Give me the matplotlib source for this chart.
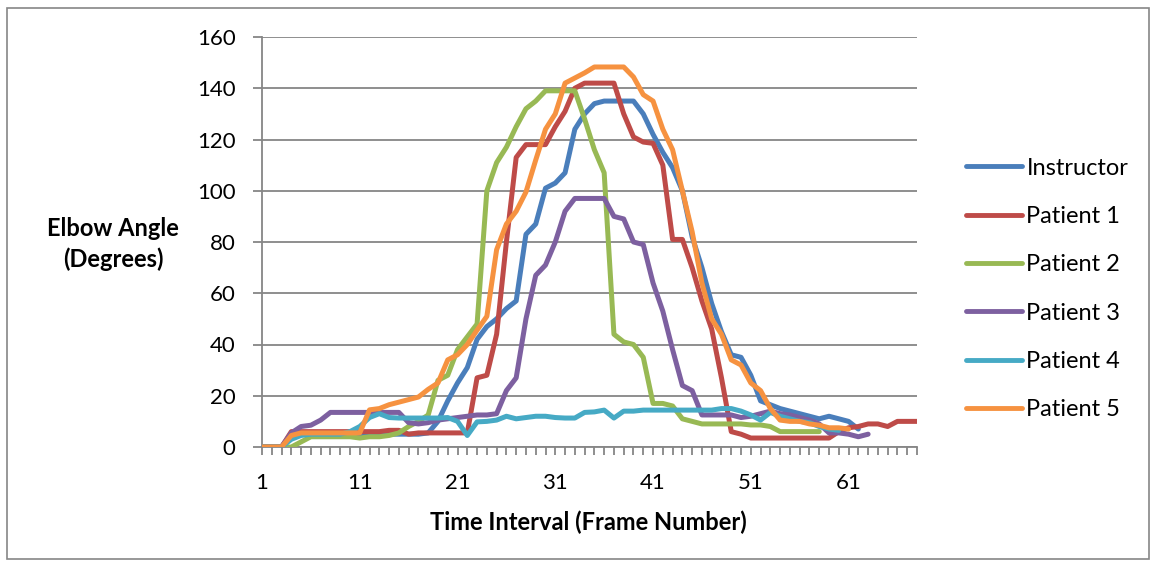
import matplotlib
matplotlib.use("Agg")
import matplotlib.pyplot as plt
from matplotlib.patches import Rectangle
import numpy as np

frames = list(range(1, 69))

instructor = [0, 0, 0, 5, 5, 5, 5, 5, 5, 5, 5, 5, 5, 5, 5, 5, 5, 5.5, 10, 18,
              25, 31, 42, 47, 50, 54, 57, 83, 87, 101, 103, 107, 124, 130, 134, 135, 135, 135, 135, 130,
              122, 115, 109, 100, 82, 70, 56, 45, 36, 35, 28, 18, 16.5, 15, 14, 13, 12, 11, 12, 11,
              10, 7]
patient1 = [0, 0, 0, 6, 6, 6, 6, 6, 6, 6, 6, 6, 6, 6.5, 6.5, 5, 5.5, 5.5, 5.5, 5.5,
            5.5, 5.5, 27, 28, 44, 80, 113, 118, 118, 118, 125, 131, 140, 142, 142, 142, 142, 130, 121, 119,
            118.5, 110, 81, 81, 70, 57, 46, 27, 6, 5, 3.5, 3.5, 3.5, 3.5, 3.5, 3.5, 3.5, 3.5, 3.5, 6,
            7.5, 8, 9, 9, 8, 10, 10, 10]
patient2 = [0, 0, 0, 0, 2, 4, 4, 4, 4, 4, 3.5, 4, 4, 4.5, 5.5, 8, 10, 12.5, 26, 28,
            38, 43, 48, 100, 111, 117, 125, 132, 135, 139, 139, 139, 139, 128, 116, 107, 44, 41, 40, 35,
            17, 17, 16, 11, 10, 9, 9, 9, 9, 9, 8.6, 8.6, 8, 6, 6, 6, 6, 6]
patient3 = [0, 0, 0, 5.5, 8, 8.5, 10.5, 13.5, 13.5, 13.5, 13.5, 13.5, 13.5, 13.5, 13.5, 9.5, 9, 9.5, 10.5, 11,
            11.5, 12, 12.5, 12.5, 13, 22, 27, 50, 67, 71, 80, 92, 97, 97, 97, 97, 90, 89, 80, 79,
            64, 53, 38, 24, 22, 12.5, 12.5, 12.5, 12.5, 11.5, 12, 13, 14, 13, 12.5, 11.5, 10.5, 9, 5.5, 5.5,
            5, 4, 5]
patient4 = [0, 0, 0, 3, 4.5, 5, 5, 5, 5, 6, 8, 11.5, 13, 11.5, 11.3, 11.3, 11.3, 11.3, 11.3, 11.5,
            10, 4.5, 9.8, 10, 10.5, 12, 11, 11.5, 12, 12, 11.5, 11.3, 11.3, 13.5, 13.7, 14.4, 11.3, 14, 14, 14.4,
            14.4, 14.4, 14.4, 14.4, 14.4, 14.4, 14.4, 15, 15, 14, 12.5, 10.5, 13.5, 12, 11, 10, 9.5, 8, 7, 6.5]
patient5 = [0, 0, 0, 4.5, 5.5, 5.5, 5.5, 5.5, 5.5, 5.5, 5.5, 14.5, 15, 16.5, 17.5, 18.5, 19.5, 22.5, 25, 34,
            36, 40, 45.6, 51, 77, 87, 92, 99.5, 112, 124, 130, 142, 144, 146, 148.3, 148.3, 148.3, 148.3, 144.4, 137.5,
            135, 124, 116, 100, 84, 64, 50, 44, 34, 32, 25, 22, 15, 10.5, 10, 10, 9, 8.5, 7.5, 7.5,
            7]

series_names = ["Instructor", "Patient 1", "Patient 2", "Patient 3", "Patient 4", "Patient 5"]
series_values = [instructor, patient1, patient2, patient3, patient4, patient5]
colors = ["#4A7EBB", "#BE4B48", "#98B954", "#7D60A0", "#46AAC5", "#F69240"]

y_ticks = [0, 20, 40, 60, 80, 100, 120, 140, 160]
x_tick_labels = [1, 11, 21, 31, 41, 51, 61]

plt.rcParams['font.family'] = ['Lato', 'DejaVu Sans']

W, H = 1156, 565
fig = plt.figure(figsize=(W / 100, H / 100), dpi=100)
ax = fig.add_axes([262 / W, 1 - 447 / H, 655 / W, 410 / H])

grid_c = "#868686"
for name, vals, c in zip(series_names, series_values, colors):
    ax.plot(frames[:len(vals)], vals, color=c, lw=3.6, label=name,
            solid_joinstyle='round', solid_capstyle='round', zorder=3)

ax.set_xlim(1, 68)
ax.set_ylim(0, 160)
ax.set_yticks(y_ticks)
ax.set_xticks(x_tick_labels)
ax.set_xticks(frames, minor=True)
ax.yaxis.grid(True, color=grid_c, lw=1.3, zorder=0)
ax.set_axisbelow(True)
for s in ["top", "right"]:
    ax.spines[s].set_visible(False)
for s in ["left", "bottom"]:
    ax.spines[s].set_color(grid_c)
    ax.spines[s].set_linewidth(1.3)
ax.tick_params(axis='y', length=6.5, width=1.3, color=grid_c, pad=12.5, labelsize=16)
ax.tick_params(axis='x', which='both', length=6, width=1.3, color=grid_c, pad=13, labelsize=16)

fig.text(113 / W, 1 - 244 / H, "Elbow Angle\n(Degrees)", ha='center', va='center',
         fontsize=17, fontweight='bold', linespacing=1.35)
fig.text(588 / W, 1 - 522 / H, "Time Interval (Frame Number)", ha='center', va='center',
         fontsize=17, fontweight='bold')

handles, labels = ax.get_legend_handles_labels()
leg = fig.legend(handles, labels, loc='center left', bbox_to_anchor=(966 / W, 1 - 289 / H),
                 frameon=False, fontsize=17, handlelength=2.36, handletextpad=0.2,
                 labelspacing=1.16, borderaxespad=0, borderpad=0)
for line in leg.get_lines():
    line.set_linewidth(3.5)

fig.patches.append(Rectangle((7 / W, 1 - 559 / H), (1149 - 7) / W, (559 - 8) / H,
                             transform=fig.transFigure, fill=False, edgecolor="#868686", lw=1.2))

fig.savefig("out.png", dpi=100)
